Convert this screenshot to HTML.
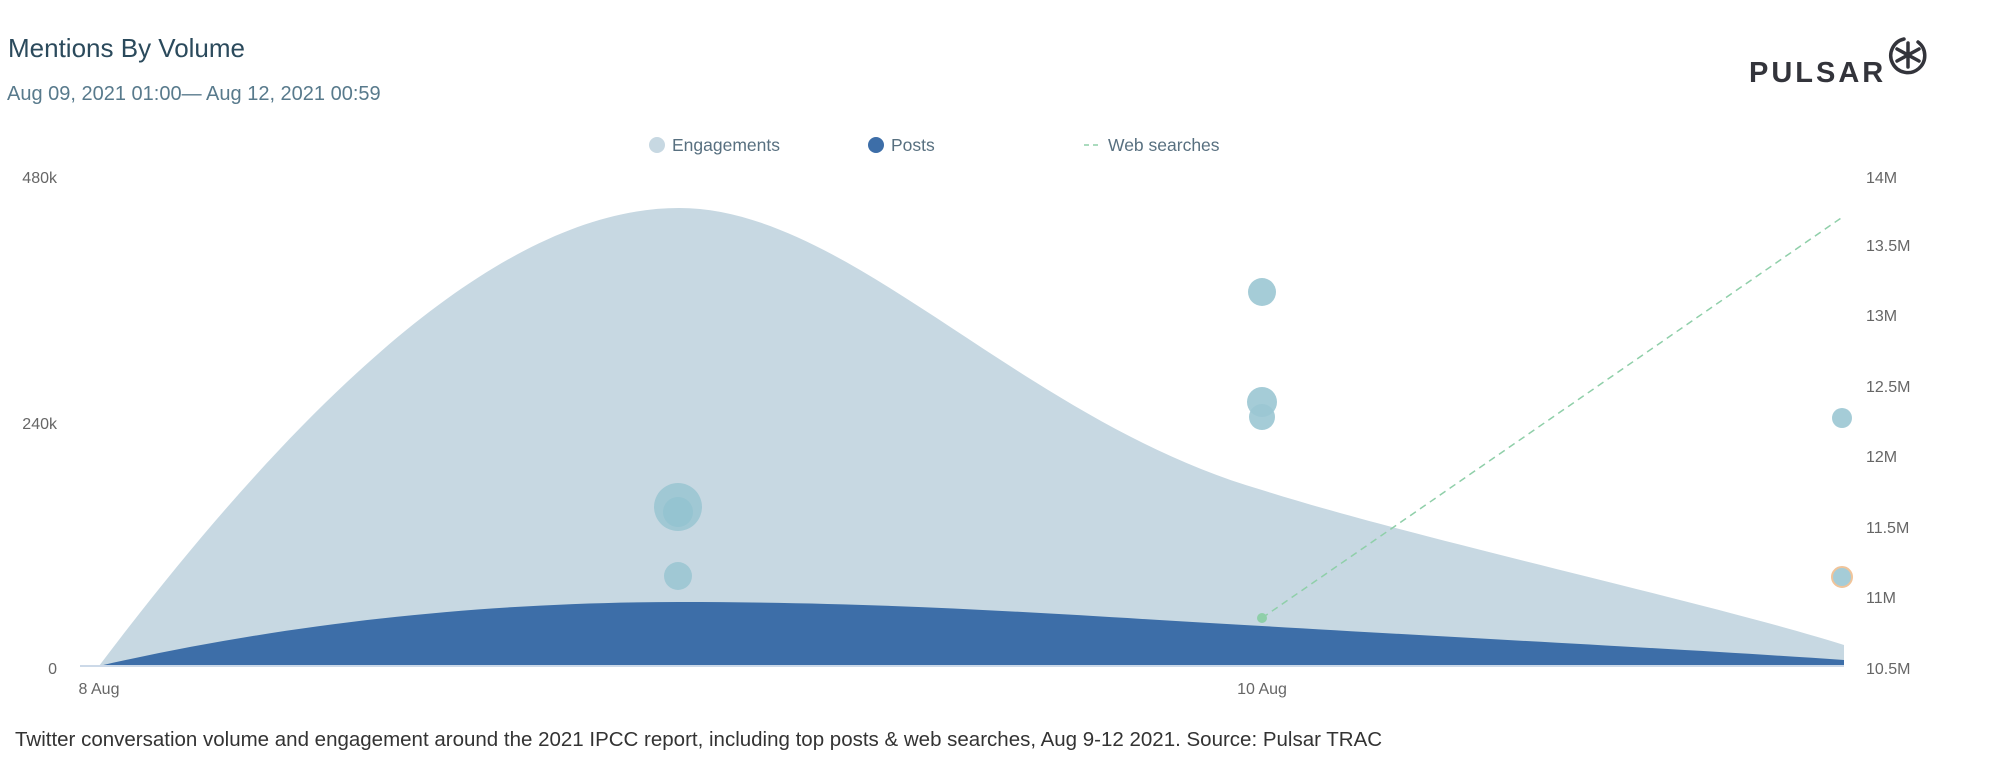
<!DOCTYPE html>
<html><head><meta charset="utf-8"><style>
html,body{margin:0;padding:0;background:#fff;width:2000px;height:763px;overflow:hidden}
svg{display:block}
</style></head><body>
<svg width="2000" height="763" viewBox="0 0 2000 763" xmlns="http://www.w3.org/2000/svg" font-family="Liberation Sans, Arial, sans-serif">
<text x="8" y="57" font-size="26" fill="#2b4a5c">Mentions By Volume</text>
<text x="7" y="100" font-size="20" fill="#587a8c">Aug 09, 2021 01:00— Aug 12, 2021 00:59</text>
<text x="1749" y="82" font-size="29" font-weight="bold" fill="#33343b" letter-spacing="3">PULSAR</text>
<g stroke="#33343b" stroke-width="3.5" fill="none" stroke-linecap="round">
<path d="M1918 42 A17 17 0 1 1 1904 39"/>
<line x1="1908" y1="43" x2="1908" y2="67"/><line x1="1897" y1="49" x2="1919" y2="61"/><line x1="1897" y1="61" x2="1919" y2="49"/>
</g>
<g font-size="17.5" fill="#587080">
<circle cx="657" cy="145" r="8" fill="#c7d8e2"/><text x="672" y="151">Engagements</text>
<circle cx="876" cy="145" r="8" fill="#3d6ea8"/><text x="891" y="151">Posts</text>
<line x1="1084" y1="145" x2="1100" y2="145" stroke="#8fcfa9" stroke-width="1.5" stroke-dasharray="5,4"/><text x="1108" y="151">Web searches</text>
</g>
<g font-size="16" fill="#666">
<text x="57" y="183" text-anchor="end">480k</text>
<text x="57" y="429" text-anchor="end">240k</text>
<text x="57" y="674" text-anchor="end">0</text>
<text x="1866" y="183">14M</text>
<text x="1866" y="251">13.5M</text>
<text x="1866" y="321">13M</text>
<text x="1866" y="392">12.5M</text>
<text x="1866" y="462">12M</text>
<text x="1866" y="533">11.5M</text>
<text x="1866" y="603">11M</text>
<text x="1866" y="674">10.5M</text>
<text x="99" y="694" text-anchor="middle">8 Aug</text>
<text x="1262" y="694" text-anchor="middle">10 Aug</text>
</g>
<path d="M99 666 C330 360 520 208 679 208 C850 208 1020 420 1262 490 C1420 540 1700 600 1844 645 L1844 666 Z" fill="#c7d8e2"/>
<path d="M99 666 C300 620 500 602 679 602 C900 602 1050 614 1262 626 C1500 640 1700 650 1844 660 L1844 666 Z" fill="#3d6ea8"/>
<line x1="80" y1="666" x2="1844" y2="666" stroke="#ccd9e8" stroke-width="2"/>
<g fill="#9bc6d3" fill-opacity="0.9">
<circle cx="678" cy="507" r="24"/>
<circle cx="678" cy="512" r="15" fill="#93c3d0"/>
<circle cx="678" cy="576" r="14"/>
<circle cx="1262" cy="292" r="14"/>
<circle cx="1262" cy="402" r="15"/>
<circle cx="1262" cy="417" r="13"/>
<circle cx="1842" cy="418" r="10"/>
<circle cx="1842" cy="577" r="10" stroke="#f0c49a" stroke-width="2"/>
</g>
<line x1="1262" y1="618" x2="1844" y2="216" stroke="#8fcfa9" stroke-width="1.5" stroke-dasharray="7,5"/>
<circle cx="1262" cy="618" r="5" fill="#8fcfa9"/>
<text x="15" y="746" font-size="20.5" fill="#333">Twitter conversation volume and engagement around the 2021 IPCC report, including top posts &amp; web searches, Aug 9-12 2021. Source: Pulsar TRAC</text>
</svg>
</body></html>
